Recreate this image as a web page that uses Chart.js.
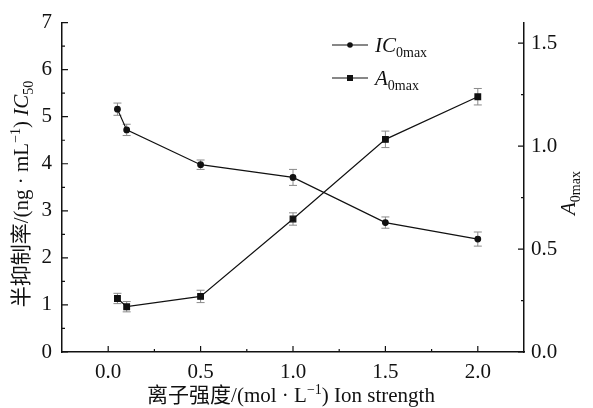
<!DOCTYPE html>
<html>
<head>
<meta charset="utf-8">
<script src="https://cdn.jsdelivr.net/npm/chart.js@4"></script>
<style>
  html, body { margin: 0; padding: 0; background: #fff; }
  #wrap { width: 593px; height: 408px; position: relative; }
</style>
</head>
<body>
<div id="wrap"><canvas id="chart"></canvas></div>
<script>
// Data
const ionStrength = [0.05, 0.1, 0.5, 1.0, 1.5, 2.0];
const ic0max = [5.16, 4.72, 3.98, 3.71, 2.75, 2.40];
const ic0maxErr = [0.13, 0.12, 0.10, 0.17, 0.12, 0.15];
const a0max = [0.26, 0.22, 0.27, 0.646, 1.033, 1.24];
const a0maxErr = [0.025, 0.025, 0.03, 0.03, 0.04, 0.04];

const xTicks = [0, 0.5, 1.0, 1.5, 2.0];
const xMinor = [0.25, 0.75, 1.25, 1.75];
const leftTicks = [0, 1, 2, 3, 4, 5, 6, 7];
const leftMinor = [0.5, 1.5, 2.5, 3.5, 4.5, 5.5, 6.5];
const rightTicks = [0, 0.5, 1.0, 1.5];
const rightMinor = [0.25, 0.75, 1.25];

const SERIF = '"Liberation Serif", "DejaVu Serif", serif';
const CJK = '"Liberation Serif", "Noto Sans CJK SC", serif';

function toPoints(xs, ys) {
  return xs.map((x, i) => ({ x: x, y: ys[i] }));
}

// draw a row of text pieces (with sub/superscripts), centered at x,y
function drawRuns(ctx, runs, x, y, rot) {
  ctx.save();
  ctx.translate(x, y);
  ctx.rotate(rot || 0);
  ctx.textBaseline = 'alphabetic';
  ctx.textAlign = 'left';
  let total = 0;
  runs.forEach(r => { ctx.font = r.font; total += ctx.measureText(r.text).width; });
  let cx = -total / 2;
  runs.forEach(r => {
    ctx.font = r.font;
    ctx.fillStyle = '#111';
    ctx.fillText(r.text, cx, 7 + (r.dy || 0));
    cx += ctx.measureText(r.text).width;
  });
  ctx.restore();
}

const fMain = '21px ' + SERIF;
const fIt = 'italic 21px ' + SERIF;
const fSub = '14px ' + SERIF;
const fCJK = '21px ' + CJK;

const extrasPlugin = {
  id: 'extras',
  beforeDatasetsDraw(chart) {
    const ctx = chart.ctx;
    const x = chart.scales.x;
    // error bars
    ctx.save();
    ctx.strokeStyle = '#8a8a8a';
    ctx.lineWidth = 1;
    const bars = [[ic0max, ic0maxErr, chart.scales.yL], [a0max, a0maxErr, chart.scales.yR]];
    bars.forEach(([vals, errs, sc]) => {
      vals.forEach((v, i) => {
        const px = x.getPixelForValue(ionStrength[i]);
        const top = sc.getPixelForValue(v + errs[i]);
        const bot = sc.getPixelForValue(v - errs[i]);
        ctx.beginPath();
        ctx.moveTo(px, top); ctx.lineTo(px, bot);
        ctx.moveTo(px - 4, top); ctx.lineTo(px + 4, top);
        ctx.moveTo(px - 4, bot); ctx.lineTo(px + 4, bot);
        ctx.stroke();
      });
    });
    ctx.restore();
  },
  afterDraw(chart) {
    const ctx = chart.ctx;
    const a = chart.chartArea;
    const x = chart.scales.x, yL = chart.scales.yL, yR = chart.scales.yR;
    ctx.save();
    ctx.strokeStyle = '#111';
    ctx.lineWidth = 1.2;
    ctx.beginPath();
    xTicks.forEach(v => { const p = x.getPixelForValue(v); ctx.moveTo(p, a.bottom); ctx.lineTo(p, a.bottom - 6); });
    xMinor.forEach(v => { const p = x.getPixelForValue(v); ctx.moveTo(p, a.bottom); ctx.lineTo(p, a.bottom - 3); });
    leftTicks.forEach(v => { const p = yL.getPixelForValue(v); ctx.moveTo(a.left, p); ctx.lineTo(a.left + 6, p); });
    leftMinor.forEach(v => { const p = yL.getPixelForValue(v); ctx.moveTo(a.left, p); ctx.lineTo(a.left + 3, p); });
    rightTicks.forEach(v => { const p = yR.getPixelForValue(v); ctx.moveTo(a.right, p); ctx.lineTo(a.right - 6, p); });
    rightMinor.forEach(v => { const p = yR.getPixelForValue(v); ctx.moveTo(a.right, p); ctx.lineTo(a.right - 3, p); });
    ctx.stroke();

    // legend
    const legend = [
      { y: 45, style: 'circle', runs: [{ text: 'IC', font: fIt }, { text: '0max', font: fSub, dy: 5 }] },
      { y: 78, style: 'rect', runs: [{ text: 'A', font: fIt }, { text: '0max', font: fSub, dy: 5 }] }
    ];
    legend.forEach(l => {
      ctx.beginPath();
      ctx.lineWidth = 1.2;
      ctx.moveTo(332, l.y); ctx.lineTo(368, l.y);
      ctx.stroke();
      ctx.fillStyle = '#111';
      ctx.beginPath();
      if (l.style === 'circle') ctx.arc(350, l.y, 2.8, 0, Math.PI * 2);
      else ctx.rect(347, l.y - 3, 6, 6);
      ctx.fill();
      let cx = 375;
      l.runs.forEach(r => {
        ctx.font = r.font;
        ctx.fillText(r.text, cx, l.y + 7 + (r.dy || 0));
        cx += ctx.measureText(r.text).width;
      });
    });
    ctx.restore();

    // axis titles
    drawRuns(ctx, [
      { text: '离子强度/(mol · L', font: fCJK },
      { text: '−1', font: fSub, dy: -8 },
      { text: ') Ion strength', font: fMain }
    ], (a.left + a.right) / 2 - 2, 395, 0);

    drawRuns(ctx, [
      { text: '半抑制率/(ng · mL', font: fCJK },
      { text: '−1', font: fSub, dy: -8 },
      { text: ') ', font: fMain },
      { text: 'IC', font: fIt },
      { text: '50', font: fSub, dy: 5 }
    ], 21, 194, -Math.PI / 2);

    drawRuns(ctx, [
      { text: 'A', font: fIt },
      { text: '0max', font: fSub, dy: 5 }
    ], 568, 193, -Math.PI / 2);
  }
};

new Chart(document.getElementById('chart'), {
  type: 'scatter',
  data: {
    datasets: [
      {
        label: 'IC0max',
        data: toPoints(ionStrength, ic0max),
        yAxisID: 'yL',
        showLine: true,
        borderColor: '#111',
        backgroundColor: '#111',
        borderWidth: 1.2,
        pointStyle: 'circle',
        pointRadius: 2.8,
        pointHoverRadius: 2.8
      },
      {
        label: 'A0max',
        data: toPoints(ionStrength, a0max),
        yAxisID: 'yR',
        showLine: true,
        borderColor: '#111',
        backgroundColor: '#111',
        borderWidth: 1.2,
        pointStyle: 'rect',
        pointRadius: 4,
        pointHoverRadius: 4
      }
    ]
  },
  options: {
    responsive: true,
    maintainAspectRatio: false,
    animation: false,
    events: [],
    layout: { padding: { top: 14, left: 0, right: 0, bottom: 0 } },
    plugins: {
      legend: { display: false },
      tooltip: { enabled: false }
    },
    scales: {
      x: {
        type: 'linear',
        min: -0.25,
        max: 2.25,
        afterBuildTicks: s => { s.ticks = xTicks.map(v => ({ value: v })); },
        afterFit: s => { s.height = 56; },
        grid: { display: true, drawOnChartArea: false, drawTicks: false },
        border: { display: true, color: '#111', width: 1.5 },
        ticks: {
          padding: 8,
          color: '#111',
          font: { family: SERIF, size: 21 },
          callback: v => v.toFixed(1)
        }
      },
      yL: {
        type: 'linear',
        position: 'left',
        min: 0,
        max: 7,
        afterBuildTicks: s => { s.ticks = leftTicks.map(v => ({ value: v })); },
        afterFit: s => { s.width = 62; },
        grid: { display: true, drawOnChartArea: false, drawTicks: false },
        border: { display: true, color: '#111', width: 1.5 },
        ticks: {
          padding: 10,
          color: '#111',
          font: { family: SERIF, size: 21 },
          callback: v => String(v)
        }
      },
      yR: {
        type: 'linear',
        position: 'right',
        min: 0,
        max: 1.6,
        afterBuildTicks: s => { s.ticks = rightTicks.map(v => ({ value: v })); },
        afterFit: s => { s.width = 69; },
        grid: { display: true, drawOnChartArea: false, drawTicks: false },
        border: { display: true, color: '#111', width: 1.5 },
        ticks: {
          padding: 7,
          color: '#111',
          font: { family: SERIF, size: 21 },
          callback: v => v.toFixed(1)
        }
      }
    }
  },
  plugins: [extrasPlugin]
});
</script>
</body>
</html>
